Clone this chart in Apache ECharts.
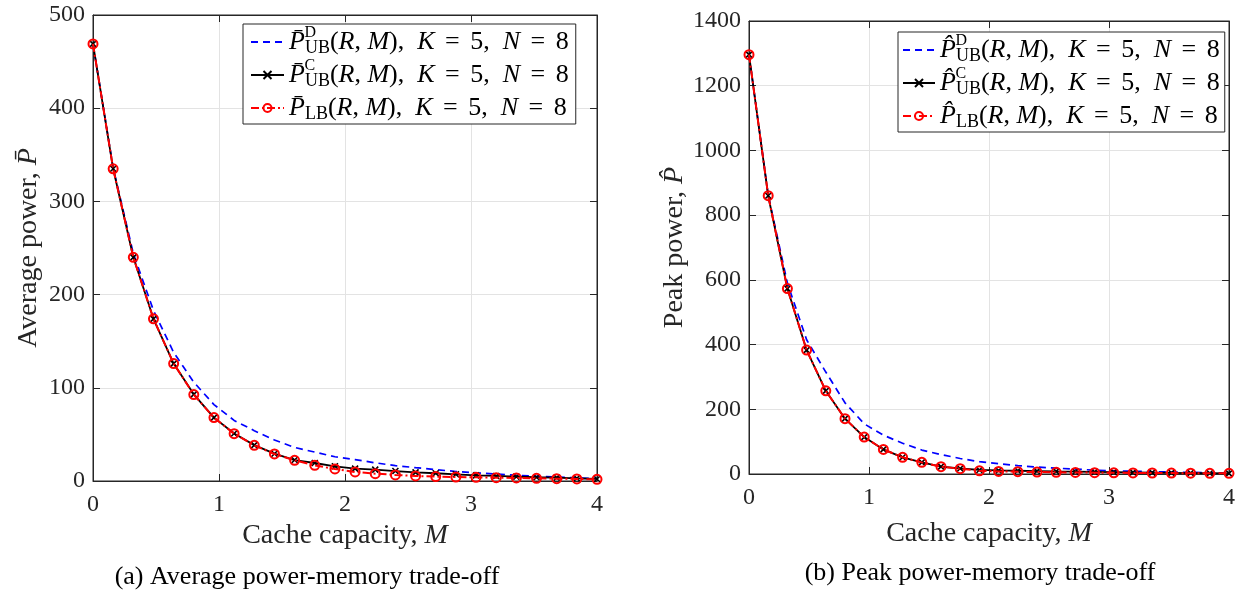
<!DOCTYPE html>
<html>
<head>
<meta charset="utf-8">
<script src="https://cdn.jsdelivr.net/npm/echarts@6/dist/echarts.min.js"></script>
<style>html,body{margin:0;padding:0;background:#fff;}#c{width:1241px;height:590px;}</style>
</head>
<body>
<div id="c"></div>
<script>
// ---- data ----
const M = [0,0.16,0.32,0.48,0.64,0.8,0.96,1.12,1.28,1.44,1.6,1.76,1.92,2.08,2.24,2.4,2.56,2.72,2.88,3.04,3.2,3.36,3.52,3.68,3.84,4.0];
const avgUBD = [469,336,244,183,138,106,82,65,54,44,36,31,26,23,19.5,16.5,14.3,12.2,10.2,8.8,7.5,6.2,5.1,4.2,3.3,2.6];
const avgUBC = [469,335,240,174,126,93,68,51,38.5,29.3,22.5,19.3,15.8,13.3,12.2,10.7,9.3,8.3,7.2,6.1,5.4,4.7,4.0,3.6,2.9,2.2];
const avgLB  = [469,335,240,174,126,92.7,68,50.8,38.3,29,22.2,16.8,12.9,9.7,7.9,6.5,5.4,4.7,4.3,4.0,3.6,3.3,2.9,2.5,2.2,1.8];
const peakUBD = [1296,862,590,415,315,220,155,120,95,74,60,48,38,32,26,21.5,18,15,12,10,8.5,7,6,5,4,3.5];
const peakUBC = [1296,860,573,383,257,171,114,76,51.6,36,22.6,17,12.5,11,10,9,8,7.2,6.4,5.6,4.9,4.2,3.6,3.0,2.5,2.0];
const peakLB  = [1296,860,573,383,257,171,114,76,51.6,36,22.6,16.4,10,8,7,6,5.3,4.7,4.2,3.8,3.4,3.1,2.8,2.5,2.2,2.0];
const xTicks = {min:0, max:4, interval:1};
const yTicksAvg = {min:0, max:500, interval:100};
const yTicksPeak = {min:0, max:1400, interval:200};
const captions = ['(a) Average power-memory trade-off', '(b) Peak power-memory trade-off'];
const xName = 'Cache capacity, ';
const yNames = ['Average power, ', 'Peak power, '];
const Pbar = 'P\u0304', Phat = 'P\u0302';
const legendSup = ['D', 'C', ''];
const legendSub = ['UB', 'UB', 'LB'];

// ---- chart ----
const FF = '"Liberation Serif", "DejaVu Serif", serif';
const AX = '#262626';
const pair = a => M.map((m,i)=>[m, a[i]]);
const nameRich = {n:{fontFamily:FF, fontSize:28, color:AX}, i:{fontFamily:FF, fontSize:28, fontStyle:'italic', color:AX}};

function xAxes(grid, top, gap){
  return {
    type:'value', gridIndex:grid, position: top?'top':'bottom', ...xTicks,
    axisLine:{show:true, onZero:false, lineStyle:{color:AX, width:1}},
    axisTick:{show:true, inside:true, length:7, lineStyle:{color:AX}},
    axisLabel:{show:!top, fontFamily:FF, fontSize:24, color:AX, margin:12},
    splitLine:{show:!top, lineStyle:{color:'#e3e3e3', width:1}},
    name: top? '' : '{n|'+xName+'}{i|M}', nameLocation:'middle', nameGap:gap||0,
    nameTextStyle:{rich:nameRich}
  };
}
function yAxes(grid, right, ticks, name, gap){
  return {
    type:'value', gridIndex:grid, position: right?'right':'left', ...ticks,
    axisLine:{show:true, onZero:false, lineStyle:{color:AX, width:1}},
    axisTick:{show:true, inside:true, length:7, lineStyle:{color:AX}},
    axisLabel:{show:!right, fontFamily:FF, fontSize:24, color:AX, margin:8, formatter: v => String(v)},
    splitLine:{show:!right, lineStyle:{color:'#e3e3e3', width:1}},
    name: right? '' : name, nameLocation:'middle', nameGap:gap,
    nameTextStyle:{rich:nameRich}
  };
}

const LFS = 26;
const legendRich = {
  it:{fontFamily:FF, fontSize:LFS, fontStyle:'italic', color:'#000'},
  rm:{fontFamily:FF, fontSize:LFS, color:'#000'},
  eq:{fontFamily:FF, fontSize:LFS, color:'#000', padding:[0,4,0,4]},
  sub:{fontFamily:FF, fontSize:18, color:'#000', padding:[12,0,0,0]}
};
function legendText(P, k){
  return '{it|'+P+'}{sub|'+legendSub[k]+'}{rm|(}{it|R}{rm|, }{it|M}{rm|),  }{it|K}{eq| = }{rm|5,  }{it|N}{eq| = }{rm|8}';
}
const names0 = ['avgD','avgC','avgL'], names1 = ['peakD','peakC','peakL'];

function mkSeries(name, data, xi, yi, kind){
  const s = {name, type:'line', xAxisIndex:xi, yAxisIndex:yi, data:pair(data), silent:true, animation:false};
  if(kind===0){
    s.symbol='none'; s.lineStyle={color:'#0000ff', width:1.7, type:[7,5]}; s.itemStyle={color:'rgba(0,0,0,0)'}; s.z=2;
  } else if(kind===1){
    s.symbol='path://M0,0L10,10M10,0L0,10'; s.symbolSize=6; s.showAllSymbol=true;
    s.lineStyle={color:'#000', width:1.8, type:'solid'}; s.itemStyle={color:'#000', borderColor:'#000', borderWidth:1.6}; s.z=3;
  } else {
    s.symbol='circle'; s.symbolSize=9; s.showAllSymbol=true;
    s.lineStyle={color:'#ff0000', width:2, type:[8,3,2,3]}; s.itemStyle={color:'rgba(255,255,255,0)', borderColor:'#ff0000', borderWidth:2}; s.z=4;
  }
  return s;
}

const GAP = 5, ROWH = 28;
const leg = [
  {left:243, top:24, pad:[5,7,1,7], iw:33, names:names0, P:Pbar},
  {left:898, top:32, pad:[5,5,1,4], iw:32, names:names1, P:Phat}
];
const legends = leg.map(L => ({
  orient:'vertical', left:L.left, top:L.top, padding:L.pad, itemGap:GAP, itemWidth:L.iw, itemHeight:10,
  backgroundColor:'#fff', borderColor:AX, borderWidth:1, borderRadius:0,
  data:L.names, selectedMode:false,
  formatter: n => legendText(L.P, L.names.indexOf(n)),
  textStyle:{rich:legendRich}
}));

function tw(text, font){ const c=document.createElement('canvas').getContext('2d'); c.font=font; return c.measureText(text).width; }
const graphic = [];
leg.forEach(L => {
  const pw = tw(L.P, 'italic '+LFS+'px '+FF);
  const x = L.left + L.pad[3] + L.iw + 5 + pw + 0.5;
  legendSup.forEach((s,k) => {
    if(!s) return;
    const cy = L.top + L.pad[0] + ROWH/2 + (ROWH+GAP)*k - 10;
    graphic.push({type:'text', x:x, y:cy, silent:true, z:100, style:{text:s, font:'16px '+FF, fill:'#000', align:'left', verticalAlign:'middle'}});
  });
});
graphic.push({type:'text', x:307, y:577, silent:true, style:{text:captions[0], font:'26px '+FF, fill:'#000', align:'center', verticalAlign:'middle'}});
graphic.push({type:'text', x:980, y:573, silent:true, style:{text:captions[1], font:'26px '+FF, fill:'#000', align:'center', verticalAlign:'middle'}});

const option = {
  animation:false,
  backgroundColor:'#fff',
  grid:[
    {left:93, top:15, width:504, height:466, show:true, borderColor:AX, borderWidth:1, backgroundColor:'rgba(0,0,0,0)'},
    {left:749, top:21, width:480, height:453, show:true, borderColor:AX, borderWidth:1, backgroundColor:'rgba(0,0,0,0)'}
  ],
  xAxis:[xAxes(0,false,41), xAxes(0,true), xAxes(1,false,46), xAxes(1,true)],
  yAxis:[
    yAxes(0,false,yTicksAvg,'{n|'+yNames[0]+'}{i|'+Pbar+'}',50),
    yAxes(0,true,yTicksAvg,'',0),
    yAxes(1,false,yTicksPeak,'{n|'+yNames[1]+'}{i|'+Phat+'}',59),
    yAxes(1,true,yTicksPeak,'',0)
  ],
  legend:legends,
  series:[
    mkSeries(names0[0], avgUBD, 0, 0, 0),
    mkSeries(names0[1], avgUBC, 0, 0, 1),
    mkSeries(names0[2], avgLB, 0, 0, 2),
    mkSeries(names1[0], peakUBD, 2, 2, 0),
    mkSeries(names1[1], peakUBC, 2, 2, 1),
    mkSeries(names1[2], peakLB, 2, 2, 2)
  ],
  graphic:graphic
};
const chart = echarts.init(document.getElementById('c'), null, {renderer:'canvas'});
chart.setOption(option);
</script>
</body>
</html>
